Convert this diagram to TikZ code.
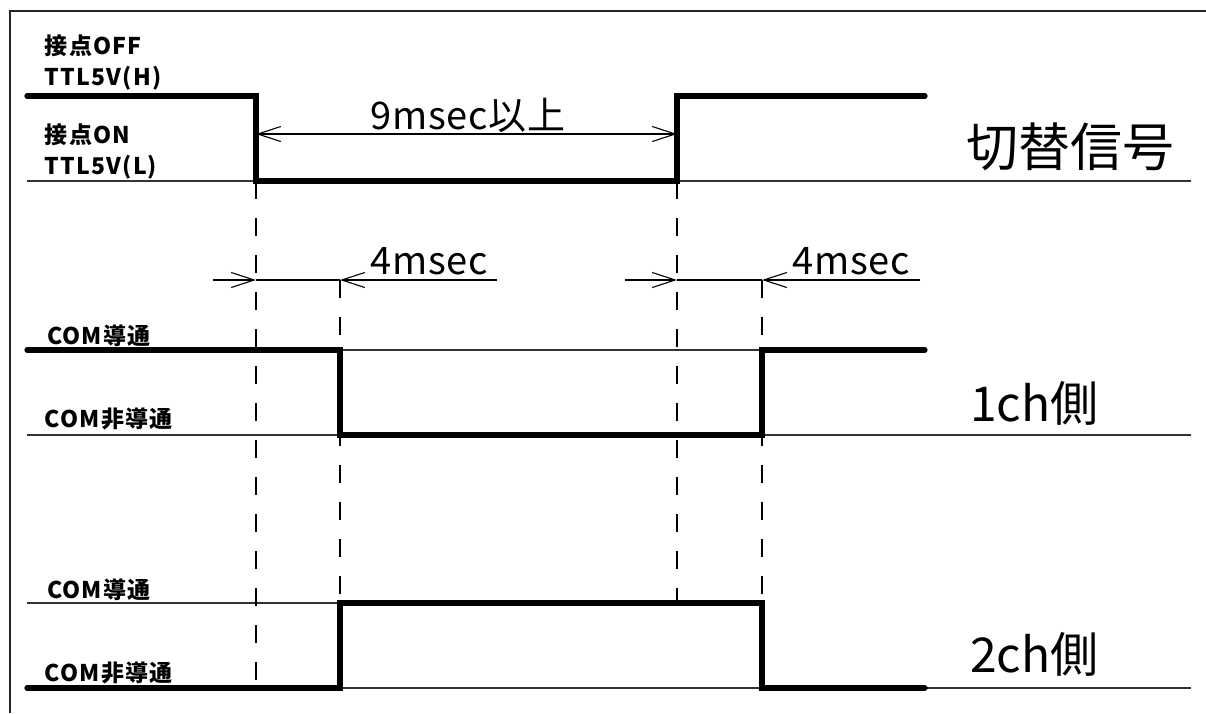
\documentclass[tikz,border=0pt]{standalone}
\usepackage{fontspec}
\setmainfont{Noto Sans CJK JP}
\usetikzlibrary{arrows.meta}
\tikzset{
    every node/.style={inner sep=0pt, outer sep=0pt},
    sig/.style={line width=2.6pt, line join=miter, line cap=round},
    base/.style={line width=0.6pt, black!80},
    guide/.style={line width=0.55pt, dash pattern=on 9pt off 9.5pt},
    dim/.style={line width=0.55pt, -{Straight Barb[length=11.5pt, width=7.5pt]}},
    frame/.style={line width=1pt, black!85},
    lvl/.style={anchor=west, font=\bfseries\fontsize{11.5}{11.5}\selectfont\addfontfeature{LetterSpace=5}},
    chname/.style={anchor=west, font=\fontsize{24}{24}\selectfont},
    span/.style={font=\fontsize{19}{19}\selectfont\addfontfeature{LetterSpace=2}}
}

\begin{document}
\begin{tikzpicture}[x=0.5pt, y=-0.5pt]
        \useasboundingbox (0,0) rectangle (1206,713);
        \draw[frame] (10,713) -- (10,11) -- (1206,11);
        % time points
        \coordinate (t0) at (27,0);
        \coordinate (t1) at (256,0);
        \coordinate (t2) at (340,0);
        \coordinate (t3) at (677,0);
        \coordinate (t4) at (762,0);
        \coordinate (t5) at (925,0);
        \coordinate (te) at (1191,0);
        % levels
        \coordinate (swH) at (0,96);
        \coordinate (swL) at (0,181);
        \coordinate (aH) at (0,350);
        \coordinate (aL) at (0,435);
        \coordinate (bH) at (0,603);
        \coordinate (bL) at (0,688);
        \coordinate (dm) at (0,280);
        % reference lines
        \draw[base] (t0 |- swL) -- (te |- swL);
        \draw[base] (t0 |- aH) -- (t4 |- aH);
        \draw[base] (t0 |- aL) -- (te |- aL);
        \draw[base] (t0 |- bH) -- (t4 |- bH);
        \draw[base] (t0 |- bL) -- (te |- bL);
        % guides
        \draw[guide] (t1 |- swL) -- (t1 |- bL);
        \draw[guide] (t3 |- swL) -- (t3 |- bH);
        \draw[guide] (t2 |- dm) -- (t2 |- bH);
        \draw[guide] (t4 |- dm) -- (t4 |- bH);
        % signals
        \draw[sig] (t0 |- swH) -- (t1 |- swH) -- (t1 |- swL) -- (t3 |- swL) -- (t3 |- swH) -- (t5 |- swH);
        \draw[sig] (t0 |- aH) -- (t2 |- aH) -- (t2 |- aL) -- (t4 |- aL) -- (t4 |- aH) -- (t5 |- aH);
        \draw[sig] (t0 |- bL) -- (t2 |- bL) -- (t2 |- bH) -- (t4 |- bH) -- (t4 |- bL) -- (t5 |- bL);
        % dimensions
        \coordinate (w0) at (466,134);
        \draw[dim] (w0) -- (t1 |- w0);
        \draw[dim] (w0) -- (t3 |- w0);
        \coordinate (d1a) at (213,280);
        \coordinate (d1b) at (497,280);
        \draw[dim] (d1a) -- (t1 |- dm);
        \draw[dim] (d1b) -- (t2 |- dm);
        \coordinate (d2a) at (625,280);
        \coordinate (d2b) at (920,280);
        \draw[dim] (d2a) -- (t3 |- dm);
        \draw[dim] (d2b) -- (t4 |- dm);
        \draw[line width=0.55pt] (t1 |- dm) -- (t2 |- dm);
        \draw[line width=0.55pt] (t3 |- dm) -- (t4 |- dm);
        % texts
        \node (n0) [lvl] at (45,46) {接点OFF};
        \node (n1) [lvl] at (45,78) {TTL5V(H)};
        \node (n2) [lvl] at (45,135) {接点ON};
        \node (n3) [lvl] at (45,167) {TTL5V(L)};
        \node (n4) [lvl] at (47,336) {COM導通};
        \node (n5) [lvl] at (45,419) {COM非導通};
        \node (n6) [lvl] at (47,590) {COM導通};
        \node (n7) [lvl] at (45,673) {COM非導通};
        \node (w1) [span] at (468,115) {9msec以上};
        \node (w2) [span] at (429,261) {4msec};
        \node (w3) [span] at (851,261) {4msec};
        \node (c0) [chname, font=\fontsize{26}{26}\selectfont] at (966,147) {切替信号};
        \node (c1) [chname] at (970,403) {1ch側};
        \node (c2) [chname] at (970,654) {2ch側};
\end{tikzpicture}
\end{document}
